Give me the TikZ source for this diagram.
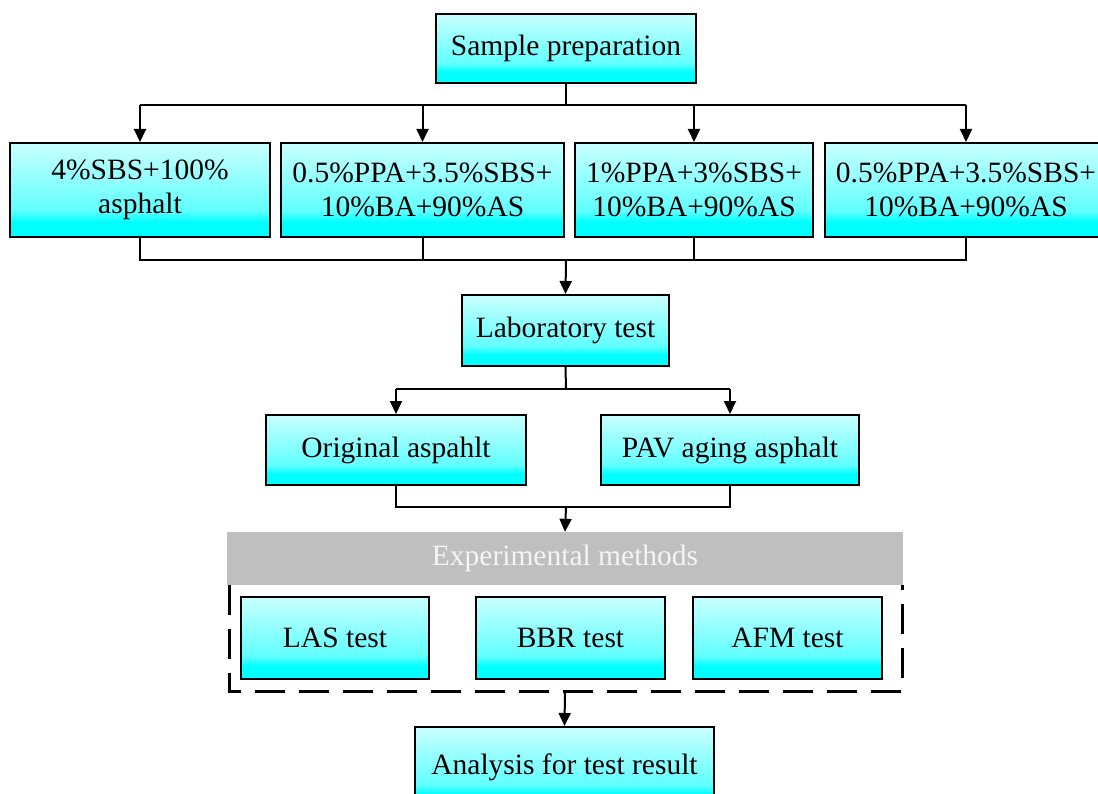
\documentclass[tikz,border=0pt]{standalone}
\usepackage{fontspec}
\setmainfont{Liberation Serif}
\usetikzlibrary{arrows.meta}
\pgfdeclareverticalshading{boxshade}{100bp}{color(0bp)=(cyan); color(25bp)=(cyan); color(33bp)=(cyan); color(39bp)=(cyan!62); color(75bp)=(cyan!21); color(100bp)=(cyan!21)}
\tikzset{
  flowbox/.style={draw=black, line width=2pt, shading=boxshade, inner sep=0pt, align=center,
    font=\fontsize{29.5}{34}\selectfont, text=black},
  conn/.style={line width=2pt},
  arr/.style={line width=2pt, -{Triangle[width=12pt,length=13pt]}},
}
\begin{document}
\begin{tikzpicture}[x=1pt,y=-1pt]
\useasboundingbox (0,0) rectangle (1098,794);
\clip (0,0) rectangle (1098,794);
\fill[white] (0,0) rectangle (1098,794);

\node[flowbox, minimum width=260pt, minimum height=69pt] (sp) at (566,48.5) {Sample preparation};

\node[flowbox, minimum width=260pt, minimum height=94pt] (b1) at (140,190) {4\%SBS+100\%\\asphalt};
\node[flowbox, minimum width=283pt, minimum height=94pt] (b2) at (422.5,190) {0.5\%PPA+3.5\%SBS+\\10\%BA+90\%AS};
\node[flowbox, minimum width=238pt, minimum height=94pt] (b3) at (694,190) {1\%PPA+3\%SBS+\\10\%BA+90\%AS};
\node[flowbox, minimum width=283pt, minimum height=94pt] (b4) at (966,190) {0.5\%PPA+3.5\%SBS+\\10\%BA+90\%AS};

\node[flowbox, minimum width=207pt, minimum height=71pt] (lab) at (565.5,330.5) {Laboratory test};

\node[flowbox, minimum width=260pt, minimum height=70pt] (orig) at (396,450) {Original aspahlt};
\node[flowbox, minimum width=258pt, minimum height=70pt] (pav) at (730,450) {PAV aging asphalt};

% experimental methods group
\draw[line width=3pt, dash pattern=on 30pt off 14pt] (229,585) -- (229,691) -- (902,691) -- (902,585);
\node[fill=black!25, minimum width=676pt, minimum height=53pt, inner sep=0pt, text=black!4,
  font=\fontsize{29.5}{34}\selectfont] (exp) at (565,558.5) {Experimental methods};
\coordinate (dbot) at (565,691);

\node[flowbox, minimum width=188pt, minimum height=82pt] (las) at (335,638) {LAS test};
\node[flowbox, minimum width=189pt, minimum height=82pt] (bbr) at (570.5,638) {BBR test};
\node[flowbox, minimum width=189pt, minimum height=82pt] (afm) at (787.5,638) {AFM test};

\node[flowbox, minimum width=299pt, minimum height=80pt] (ana) at (564.5,767) {Analysis for test result};

% connectors
\coordinate (t1) at (566,105);
\coordinate (t2) at (566,260);
\coordinate (t3) at (566,389);
\coordinate (t4) at (566,507);

\draw[conn] (sp.south) -- (t1);
\draw[conn] (b1.north |- t1) -- (b4.north |- t1);
\draw[arr] (b1.north |- t1) -- (b1.north);
\draw[arr] (b2.north |- t1) -- (b2.north);
\draw[arr] (b3.north |- t1) -- (b3.north);
\draw[arr] (b4.north |- t1) -- (b4.north);

\draw[conn] (b1.south) -- (b1.south |- t2) -- (b4.south |- t2) -- (b4.south);
\draw[conn] (b2.south) -- (b2.south |- t2);
\draw[conn] (b3.south) -- (b3.south |- t2);
\draw[arr] (t2) -- (lab.north);

\draw[conn] (lab.south) -- (t3);
\draw[conn] (orig.north |- t3) -- (pav.north |- t3);
\draw[arr] (orig.north |- t3) -- (orig.north);
\draw[arr] (pav.north |- t3) -- (pav.north);

\draw[conn] (orig.south) -- (orig.south |- t4) -- (pav.south |- t4) -- (pav.south);
\draw[arr] (t4) -- (exp.north);

\draw[arr] (dbot) -- (ana.north);
\end{tikzpicture}
\end{document}
